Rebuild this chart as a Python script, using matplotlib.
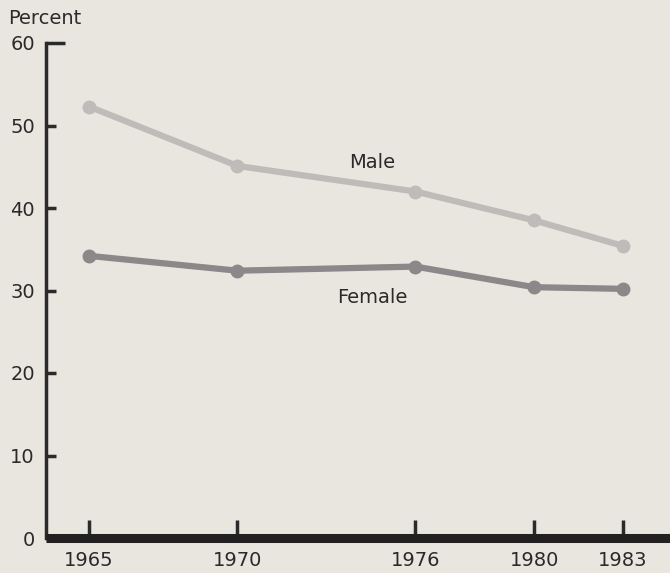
import matplotlib
matplotlib.use("Agg")
import matplotlib.pyplot as plt

years = [1965, 1970, 1976, 1980, 1983]
male = [52.3, 45.1, 42.0, 38.5, 35.4]
female = [34.2, 32.4, 32.9, 30.4, 30.2]
yticks = [0, 10, 20, 30, 40, 50, 60]

BG = "#e8e6df"
INK = "#2b2a2a"
FONT = "DejaVu Sans"

fig = plt.figure(figsize=(6.7, 5.73), dpi=100, facecolor=BG)
ax = fig.add_axes([46 / 670, 35 / 573, 624 / 670, 495 / 573])
ax.set_facecolor(BG)

ax.plot(years, male, color="#bdbcb8", lw=4.5, marker="o", ms=9, solid_capstyle="round")
ax.plot(years, female, color="#8a8888", lw=4.5, marker="o", ms=9, solid_capstyle="round")

ax.text(1974.55, 45.5, "Male", fontsize=14, color=INK, family=FONT, ha="center", va="center")
ax.text(1974.55, 29.2, "Female", fontsize=14, color=INK, family=FONT, ha="center", va="center")
fig.text(8 / 670, 1 - 18 / 573, "Percent", fontsize=14, color=INK, family=FONT, va="center")

ax.set_xlim(1963.55, 1984.58)
ax.set_ylim(0, 60)
ax.set_xticks(years)
ax.set_yticks(yticks)
ax.set_xticklabels([str(y) for y in years], family=FONT, fontsize=14, color=INK)
ax.set_yticklabels([str(v) for v in yticks], family=FONT, fontsize=14, color=INK)

for s in ["top", "right"]:
    ax.spines[s].set_visible(False)
ax.spines["left"].set_linewidth(2.5)
ax.spines["left"].set_color(INK)
ax.spines["bottom"].set_linewidth(6.5)
ax.spines["bottom"].set_color("#222020")
ax.spines["bottom"].set_capstyle("butt")

ax.tick_params(axis="x", direction="in", length=13, width=2.5, color=INK, pad=9)
ax.tick_params(axis="y", direction="in", length=7, width=2.5, color=INK, pad=8)
# the top tick is drawn longer, like a bracket
ax.yaxis.get_major_ticks()[-1].tick1line.set_markersize(14)

fig.savefig("out.png", dpi=100, facecolor=BG)
